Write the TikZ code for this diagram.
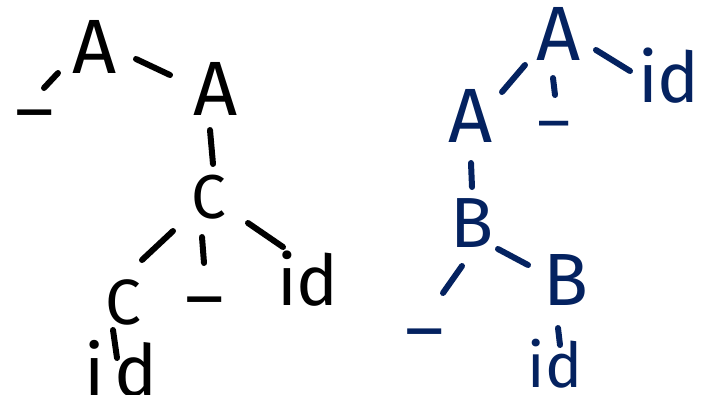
\documentclass[tikz,border=0pt]{standalone}
\usepackage{fontspec}
\setmainfont{Fira Sans}
\usetikzlibrary{calc}
\definecolor{navyink}{RGB}{4,34,96}
\begin{document}
\begin{tikzpicture}[x=1pt,y=-1pt,
  lab/.style={inner sep=0pt,anchor=base,font=\fontsize{#1}{#1}\selectfont},
  bar/.style={lab=#1,text height=0pt,text depth=0pt},
  edge/.style={line width=6pt,line cap=round}]
\useasboundingbox (0,0) rectangle (701,394);
\fill[white] (0,0) rectangle (701,394);
\clip (0,0) rectangle (701,394);
% left tree (black)
\node[lab=77] (A1) at (95,73) {A};
\node[bar=70] (u1) at (35,105) {\_};
\node[lab=77] (A2) at (216,115) {A};
\node[lab=62] (C1) at (209,218) {C};
\node[lab=64] (C2) at (123,324) {C};
\node[bar=70] (u2) at (205,292) {\_};
\node[lab=70] (id1) at (308,305) {id};
\node[lab=72] (id2) at (121,396) {i\kern9pt d};
\draw[edge] ($(A1.base)+(-37,0)$) -- ($(u1.base)+(9,-17)$);
\draw[edge] ($(A1.base)+(41,-14)$) -- ($(A2.base)+(-46,-40)$);
\draw[edge] ($(A2.base)+(-6,15)$) -- ($(C1.base)+(4,-54)$);
\draw[edge] ($(C1.base)+(-36,13)$) -- ($(C2.base)+(19,-64)$);
\draw[edge] ($(C1.base)+(-7,19)$) -- ($(u2.base)+(-1,-29)$);
\draw[edge] ($(C1.base)+(39,5)$) -- ($(id1.base)+(-25,-58)$);
\draw[edge] ($(C2.base)+(-10,6)$) -- ($(id2.base)+(-4,-38)$);
% right tree (navy)
\begin{scope}[navyink]
\node[lab=77] (A3) at (559,60) {A};
\node[lab=77] (A4) at (471,142) {A};
\node[bar=60] (u3) at (554,117) {\_};
\node[lab=70] (id3) at (669,102) {id};
\node[lab=71] (B1) at (472,247) {B};
\node[bar=70] (u4) at (425,324) {\_};
\node[lab=74] (B2) at (566,305) {B};
\node[lab=62] (id4) at (555,387) {id};
\draw[edge] ($(A3.base)+(-34,5)$) -- ($(A4.base)+(31,-50)$);
\draw[edge] ($(A3.base)+(-6,18)$) -- ($(u3.base)+(1,-22)$);
\draw[edge] ($(A3.base)+(37,-10)$) -- ($(id3.base)+(-39,-31)$);
\draw[edge] ($(A4.base)+(0,21)$) -- ($(B1.base)+(0,-60)$);
\draw[edge] ($(B1.base)+(-10,19)$) -- ($(u4.base)+(18,-31)$);
\draw[edge] ($(B1.base)+(26,2)$) -- ($(B2.base)+(-38,-40)$);
\draw[edge] ($(B2.base)+(-8,23)$) -- ($(id4.base)+(5,-42)$);
\end{scope}
\end{tikzpicture}
\end{document}
